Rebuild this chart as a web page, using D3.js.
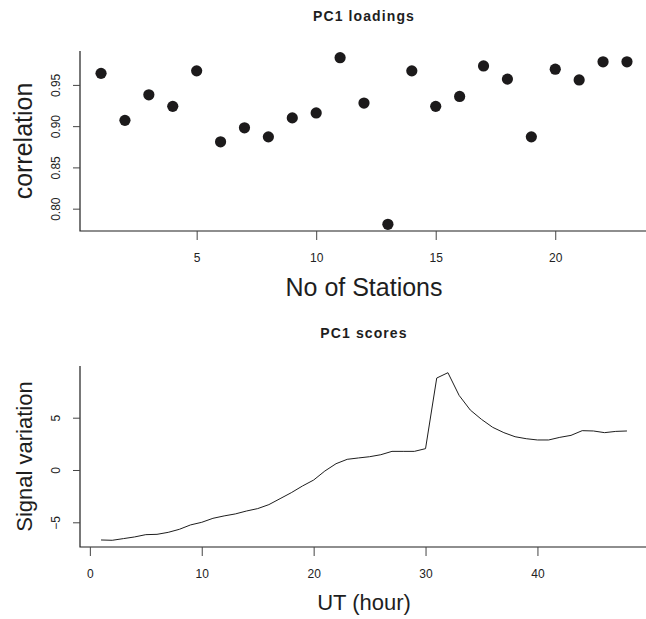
<!DOCTYPE html>
<html>
<head>
<meta charset="utf-8">
<script src="https://cdn.jsdelivr.net/npm/d3@7"></script>
<style>
  body { margin: 0; background: #fff; }
  svg { display: block; font-family: "Liberation Sans", Arial, Helvetica, sans-serif; }
</style>
</head>
<body>
<svg id="chart" width="646" height="619"></svg>
<script>
// PC1 loadings: correlation per station
const stations = d3.range(1, 24);
const loadings = [0.964, 0.907, 0.938, 0.924, 0.967, 0.881, 0.898, 0.887, 0.910, 0.916,
                  0.983, 0.928, 0.781, 0.967, 0.924, 0.936, 0.973, 0.957, 0.887, 0.969,
                  0.956, 0.978, 0.978];
const loadTicksX = [5, 10, 15, 20];
const loadTicksY = [0.80, 0.85, 0.90, 0.95];

// PC1 scores: signal variation per UT hour
const hours = d3.range(1, 49);
const scores = [-6.69, -6.72, -6.56, -6.40, -6.18, -6.15, -5.96, -5.67, -5.25, -5.00,
                -4.62, -4.39, -4.20, -3.92, -3.69, -3.31, -2.74, -2.17, -1.53, -0.96,
                -0.10, 0.60, 1.02, 1.15, 1.27, 1.46, 1.78, 1.78, 1.78, 2.04,
                8.79, 9.30, 7.13, 5.73, 4.84, 4.08, 3.57, 3.18, 2.99, 2.87,
                2.87, 3.12, 3.31, 3.76, 3.73, 3.57, 3.69, 3.73];
const scoreTicksX = [0, 10, 20, 30, 40];
const scoreTicksY = [-5, 0, 5];

const svg = d3.select("#chart");
const ink = "#1e1e1e";

// R style 4% padding of the data range
function pad(ext) {
  const r = ext[1] - ext[0];
  return [ext[0] - 0.04 * r, ext[1] + 0.04 * r];
}

function panel(opt) {
  const x = d3.scaleLinear().domain(pad(d3.extent(opt.xs))).range([opt.left, opt.right]);
  const y = d3.scaleLinear().domain(pad(d3.extent(opt.ys))).range([opt.bottom, opt.top]);
  const g = svg.append("g");

  // L shaped box
  g.append("path")
    .attr("d", `M${opt.left},${opt.top}V${opt.bottom}H${opt.right}`)
    .attr("fill", "none").attr("stroke", ink).attr("stroke-width", 1.2);

  const ax = g.append("g")
    .attr("transform", `translate(0,${opt.bottom})`)
    .call(d3.axisBottom(x).tickValues(opt.xTicks).tickSize(9).tickSizeOuter(0).tickFormat(d3.format("d")));
  ax.select(".domain").remove();
  ax.selectAll("line").attr("stroke", "#444");
  ax.selectAll("text").attr("font-size", 12).attr("fill", "#222").attr("y", 22).attr("dy", "0.71em");

  const ay = g.append("g")
    .attr("transform", `translate(${opt.left},0)`)
    .call(d3.axisLeft(y).tickValues(opt.yTicks).tickSize(7).tickSizeOuter(0).tickFormat(opt.yFmt));
  ay.select(".domain").remove();
  ay.selectAll("line").attr("stroke", "#444");
  ay.selectAll("text")
    .attr("font-size", 12).attr("fill", "#222")
    .attr("transform", "rotate(-90)")
    .attr("x", 0).attr("y", -20).attr("dy", 0)
    .attr("text-anchor", "middle");

  g.append("text")
    .attr("x", (opt.left + opt.right) / 2).attr("y", opt.titleY)
    .attr("text-anchor", "middle").attr("font-size", 14).attr("font-weight", "bold")
    .attr("letter-spacing", 1.1).attr("fill", ink)
    .text(opt.title);

  g.append("text")
    .attr("x", (opt.left + opt.right) / 2).attr("y", opt.xLabY)
    .attr("text-anchor", "middle").attr("font-size", opt.labSize).attr("fill", ink)
    .text(opt.xLab);

  g.append("text")
    .attr("transform", `translate(32,${(opt.top + opt.bottom) / 2}) rotate(-90)`)
    .attr("text-anchor", "middle").attr("font-size", opt.labSize).attr("fill", ink)
    .text(opt.yLab);

  return { g, x, y };
}

// top: loadings
const p1 = panel({
  xs: stations, ys: loadings, left: 80, right: 648, top: 51, bottom: 231,
  xTicks: loadTicksX, yTicks: loadTicksY, yFmt: d3.format(".2f"),
  title: "PC1 loadings", titleY: 21, xLab: "No of Stations", xLabY: 296,
  yLab: "correlation", labSize: 25
});
p1.g.selectAll("circle")
  .data(loadings)
  .join("circle")
  .attr("cx", (d, i) => p1.x(stations[i]))
  .attr("cy", d => p1.y(d))
  .attr("r", 5.6)
  .attr("fill", "#1c1a1b");

// bottom: scores
const p2 = panel({
  xs: hours, ys: scores, left: 80, right: 648, top: 366, bottom: 547,
  xTicks: scoreTicksX, yTicks: scoreTicksY, yFmt: d => d < 0 ? "\u2212" + Math.abs(d) : d,
  title: "PC1 scores", titleY: 338, xLab: "UT (hour)", xLabY: 610,
  yLab: "Signal variation", labSize: 22
});
p2.g.append("path")
  .datum(scores)
  .attr("d", d3.line().x((d, i) => p2.x(hours[i])).y(d => p2.y(d)))
  .attr("fill", "none")
  .attr("stroke", ink)
  .attr("stroke-width", 1);
</script>
</body>
</html>
